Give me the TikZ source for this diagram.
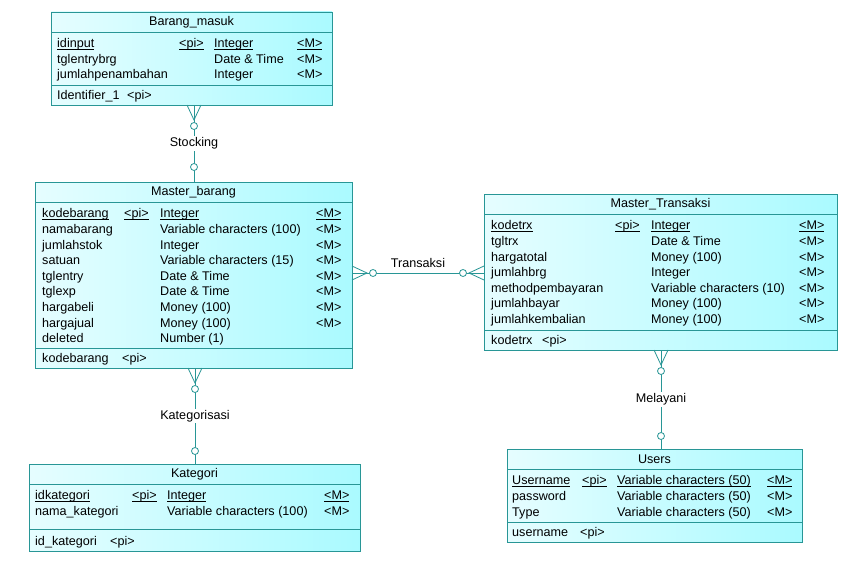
\documentclass[tikz,border=0pt]{standalone}
\usepackage{fontspec}
\setmainfont{Liberation Sans}
\usepackage{tikz}
\usetikzlibrary{positioning}

\definecolor{erline}{RGB}{40,150,150}
\definecolor{erfill}{RGB}{170,250,255}
\newcommand\keyattr[1]{\setbox0\hbox{#1}\rlap{\rule[-2pt]{\wd0}{0.6pt}}\box0}

\begin{document}
\begin{tikzpicture}[x=1pt, y=-1pt,
    font=\fontsize{12.6}{15}\selectfont,
    entity/.style={draw=erline, line width=0.8pt, left color=erfill!30!white, right color=erfill, inner sep=0pt, outer sep=0pt, anchor=north west},
    sepline/.style={draw=erline, line width=0.8pt},
    enttitle/.style={inner sep=0pt},
    attr/.style={anchor=base west, inner sep=0pt},
    rel/.style={draw=erline, line width=0.8pt},
    opt/.style={draw=erline, line width=0.8pt, fill=white},
    rlabel/.style={fill=white, inner sep=1.5pt}
    ]
\useasboundingbox[fill=white] (0,0) rectangle (858,564);

% Barang_masuk
\node[entity, minimum width=281pt, minimum height=93pt] (masuk) at (51,12) {};
\draw[sepline] ([yshift=-20pt]masuk.north west) -- ([yshift=-20pt]masuk.north east);
\draw[sepline] ([yshift=20pt]masuk.south west) -- ([yshift=20pt]masuk.south east);
\node[enttitle] (masuk-title) at ([yshift=-10pt]masuk.north) {Barang\_masuk};
\node[attr] (masuk-n0) at (57,47.8) {\keyattr{idinput}};
\node[attr] (masuk-p0) at (179,47.8) {\keyattr{<pi>}};
\node[attr] (masuk-t0) at (214,47.8) {\keyattr{Integer}};
\node[attr] (masuk-m0) at (297,47.8) {\keyattr{<M>}};
\foreach \n/\t [count=\i] in {tglentrybrg/Date \& Time, jumlahpenambahan/Integer}{
    \node[attr] (masuk-n\i) at (57,47.8+15.6*\i) {\n};
    \node[attr] (masuk-t\i) at (214,47.8+15.6*\i) {\t};
    \node[attr] (masuk-m\i) at (297,47.8+15.6*\i) {<M>};
}
\node[attr] (masuk-id) at (57,99.3) {Identifier\_1};
\node[attr] (masuk-idpi) at (127,99.3) {<pi>};

% Master_barang
\node[entity, minimum width=317pt, minimum height=186pt] (barang) at (35,182) {};
\draw[sepline] ([yshift=-20pt]barang.north west) -- ([yshift=-20pt]barang.north east);
\draw[sepline] ([yshift=20pt]barang.south west) -- ([yshift=20pt]barang.south east);
\node[enttitle] (barang-title) at ([yshift=-10pt]barang.north) {Master\_barang};
\node[attr] (barang-n0) at (42,217.8) {\keyattr{kodebarang}};
\node[attr] (barang-p0) at (124,217.8) {\keyattr{<pi>}};
\node[attr] (barang-t0) at (160,217.8) {\keyattr{Integer}};
\node[attr] (barang-m0) at (316,217.8) {\keyattr{<M>}};
\foreach \n/\t/\m [count=\i] in {namabarang/Variable characters (100)/<M>,
    jumlahstok/Integer/<M>, satuan/Variable characters (15)/<M>,
    tglentry/Date \& Time/<M>, tglexp/Date \& Time/<M>,
    hargabeli/Money (100)/<M>, hargajual/Money (100)/<M>, deleted/Number (1)/{}}{
    \node[attr] (barang-n\i) at (42,217.8+15.6*\i) {\n};
    \node[attr] (barang-t\i) at (160,217.8+15.6*\i) {\t};
    \node[attr] (barang-m\i) at (316,217.8+15.6*\i) {\m};
}
\node[attr] (barang-id) at (42,362.3) {kodebarang};
\node[attr] (barang-idpi) at (122,362.3) {<pi>};

% Master_Transaksi
\node[entity, minimum width=353pt, minimum height=156pt] (trx) at (484,194) {};
\draw[sepline] ([yshift=-20pt]trx.north west) -- ([yshift=-20pt]trx.north east);
\draw[sepline] ([yshift=20pt]trx.south west) -- ([yshift=20pt]trx.south east);
\node[enttitle] (trx-title) at ([yshift=-10pt]trx.north) {Master\_Transaksi};
\node[attr] (trx-n0) at (491,229.8) {\keyattr{kodetrx}};
\node[attr] (trx-p0) at (615,229.8) {\keyattr{<pi>}};
\node[attr] (trx-t0) at (651,229.8) {\keyattr{Integer}};
\node[attr] (trx-m0) at (799,229.8) {\keyattr{<M>}};
\foreach \n/\t [count=\i] in {tgltrx/Date \& Time, hargatotal/Money (100),
    jumlahbrg/Integer, methodpembayaran/Variable characters (10),
    jumlahbayar/Money (100), jumlahkembalian/Money (100)}{
    \node[attr] (trx-n\i) at (491,229.8+15.6*\i) {\n};
    \node[attr] (trx-t\i) at (651,229.8+15.6*\i) {\t};
    \node[attr] (trx-m\i) at (799,229.8+15.6*\i) {<M>};
}
\node[attr] (trx-id) at (491,344.3) {kodetrx};
\node[attr] (trx-idpi) at (542,344.3) {<pi>};

% Kategori
\node[entity, minimum width=331pt, minimum height=87pt] (kat) at (29,464) {};
\draw[sepline] ([yshift=-20pt]kat.north west) -- ([yshift=-20pt]kat.north east);
\draw[sepline] ([yshift=22pt]kat.south west) -- ([yshift=22pt]kat.south east);
\node[enttitle] (kat-title) at ([yshift=-10pt]kat.north) {Kategori};
\node[attr] (kat-n0) at (35,499.8) {\keyattr{idkategori}};
\node[attr] (kat-p0) at (132,499.8) {\keyattr{<pi>}};
\node[attr] (kat-t0) at (167,499.8) {\keyattr{Integer}};
\node[attr] (kat-m0) at (324,499.8) {\keyattr{<M>}};
\node[attr] (kat-n1) at (35,515.4) {nama\_kategori};
\node[attr] (kat-t1) at (167,515.4) {Variable characters (100)};
\node[attr] (kat-m1) at (324,515.4) {<M>};
\node[attr] (kat-id) at (35,545.3) {id\_kategori};
\node[attr] (kat-idpi) at (110,545.3) {<pi>};

% Users
\node[entity, minimum width=295pt, minimum height=93pt] (users) at (507,449) {};
\draw[sepline] ([yshift=-20pt]users.north west) -- ([yshift=-20pt]users.north east);
\draw[sepline] ([yshift=20pt]users.south west) -- ([yshift=20pt]users.south east);
\node[enttitle] (users-title) at ([yshift=-10pt]users.north) {Users};
\node[attr] (users-n0) at (512,484.8) {\keyattr{Username}};
\node[attr] (users-p0) at (582,484.8) {\keyattr{<pi>}};
\node[attr] (users-t0) at (617,484.8) {\keyattr{Variable characters (50)}};
\node[attr] (users-m0) at (767,484.8) {\keyattr{<M>}};
\foreach \n [count=\i] in {password, Type}{
    \node[attr] (users-n\i) at (512,484.8+15.6*\i) {\n};
    \node[attr] (users-t\i) at (617,484.8+15.6*\i) {Variable characters (50)};
    \node[attr] (users-m\i) at (767,484.8+15.6*\i) {<M>};
}
\node[attr] (users-id) at (512,536.3) {username};
\node[attr] (users-idpi) at (580,536.3) {<pi>};

% Stocking
\coordinate (st1) at ([xshift=2.5pt]masuk.south);
\coordinate (st2) at (st1 |- barang.north);
\draw[rel] (st1) -- node[rlabel] (stocking) {Stocking} (st2);
\draw[rel] ([xshift=-7pt]st1) -- ([yshift=-15pt]st1) -- ([xshift=7pt]st1);
\draw[opt] ([yshift=-21pt]st1) circle (3.5pt);
\draw[opt] ([yshift=15pt]st2) circle (3.5pt);

% Kategorisasi
\coordinate (kt1) at ([xshift=1.5pt]barang.south);
\coordinate (kt2) at (kt1 |- kat.north);
\draw[rel] (kt1) -- node[rlabel] (kategorisasi) {Kategorisasi} (kt2);
\draw[rel] ([xshift=-7pt]kt1) -- ([yshift=-15pt]kt1) -- ([xshift=7pt]kt1);
\draw[opt] ([yshift=-21pt]kt1) circle (3.5pt);
\draw[opt] ([yshift=13pt]kt2) circle (3.5pt);

% Melayani
\coordinate (ml1) at ([xshift=0.5pt]trx.south);
\coordinate (ml2) at (ml1 |- users.north);
\draw[rel] (ml1) -- node[rlabel] (melayani) {Melayani} (ml2);
\draw[rel] ([xshift=-7pt]ml1) -- ([yshift=-15pt]ml1) -- ([xshift=7pt]ml1);
\draw[opt] ([yshift=-21pt]ml1) circle (3.5pt);
\draw[opt] ([yshift=13pt]ml2) circle (3.5pt);

% Transaksi
\coordinate (tr1) at ([yshift=2pt]barang.east);
\coordinate (tr2) at (tr1 -| trx.west);
\draw[rel] (tr1) -- node[above=3.5pt, inner sep=1pt] (transaksi) {Transaksi} (tr2);
\draw[rel] ([yshift=7pt]tr1) -- ([xshift=15pt]tr1) -- ([yshift=-7pt]tr1);
\draw[rel] ([yshift=7pt]tr2) -- ([xshift=-15pt]tr2) -- ([yshift=-7pt]tr2);
\draw[opt] ([xshift=21pt]tr1) circle (3.5pt);
\draw[opt] ([xshift=-21pt]tr2) circle (3.5pt);
\end{tikzpicture}
\end{document}
